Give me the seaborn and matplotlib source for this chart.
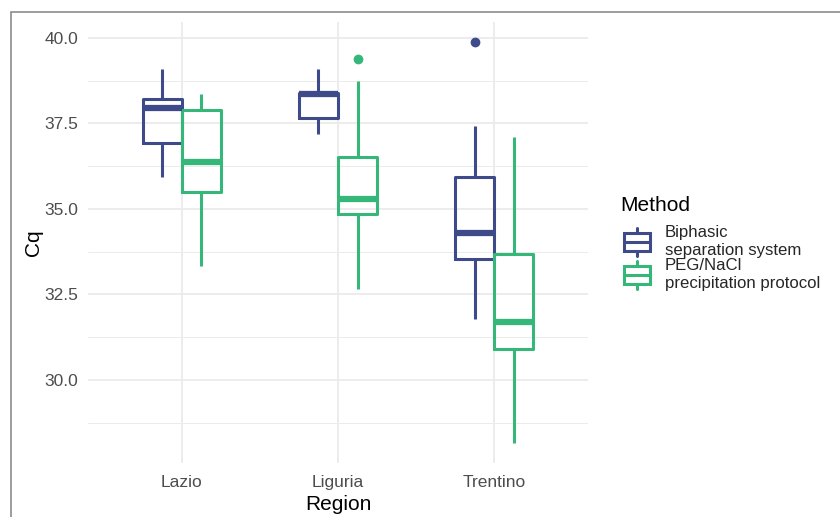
import numpy as np
import pandas as pd
import seaborn as sns
import matplotlib.pyplot as plt
from matplotlib.patches import Rectangle, Patch
from matplotlib.lines import Line2D
from matplotlib.legend_handler import HandlerBase
from matplotlib.ticker import MultipleLocator

regions = ["Lazio", "Liguria", "Trentino"]
methods = ["Biphasic\nseparation system", "PEG/NaCl\nprecipitation protocol"]
colors = ["#3E4A89", "#35B779"]

bi_lo = [35.92, 37.18, 31.79]
bi_q1 = [36.94, 37.66, 33.53]
bi_med = [37.96, 38.35, 34.31]
bi_q3 = [38.20, 38.38, 35.92]
bi_hi = [39.08, 39.09, 37.43]
bi_out = [None, None, 39.88]

peg_lo = [33.34, 32.67, 28.15]
peg_q1 = [35.50, 34.86, 30.90]
peg_med = [36.38, 35.29, 31.70]
peg_q3 = [37.88, 36.51, 33.68]
peg_hi = [38.35, 38.73, 37.09]
peg_out = [None, 39.38, None]


def make_rows(method, lo, q1, med, q3, hi, out):
    rows = []
    for i, reg in enumerate(regions):
        last = out[i] if out[i] is not None else hi[i]
        vals = [lo[i], q1[i], q1[i], med[i], med[i], q3[i], q3[i], hi[i], last]
        for v in vals:
            rows.append({"Region": reg, "Method": method, "Cq": v})
    return rows


df = pd.DataFrame(make_rows(methods[0], bi_lo, bi_q1, bi_med, bi_q3, bi_hi, bi_out)
                  + make_rows(methods[1], peg_lo, peg_q1, peg_med, peg_q3, peg_hi, peg_out))

sns.set_theme(style="whitegrid")
plt.rcParams['font.family'] = ['Liberation Sans', 'DejaVu Sans']

fig = plt.figure(figsize=(8.4, 5.17), dpi=100)
ax = fig.add_axes([88/840, 1-463.4/517, 500/840, (463.4-21.9)/517])

sns.boxplot(data=df, x="Region", y="Cq", hue="Method", order=regions, hue_order=methods,
            palette=colors, fill=False, width=0.5, gap=0, linewidth=2.2, showcaps=False,
            whis=1.5, medianprops=dict(linewidth=4.5),
            flierprops=dict(marker='o', markersize=6), legend=False, ax=ax)

for ln in ax.lines:
    if ln.get_linestyle() == 'None':
        ln.set_markerfacecolor(ln.get_markeredgecolor())

ymin, ymax = df["Cq"].min(), df["Cq"].max()
pad = (ymax - ymin) * 0.05
ax.set_ylim(ymin - pad, ymax + pad)
ax.set_xlim(-0.6, 2.6)

ax.yaxis.set_major_locator(MultipleLocator(2.5))
ax.yaxis.set_minor_locator(MultipleLocator(1.25))
ax.yaxis.set_major_formatter(plt.FuncFormatter(lambda v, p: f"{v:.1f}"))
ax.grid(True, which='major', axis='both', color='#EBEBEB', linewidth=1.3)
ax.grid(True, which='minor', axis='y', color='#EBEBEB', linewidth=0.7)
ax.set_axisbelow(True)
for s in ax.spines.values():
    s.set_visible(False)
ax.set_facecolor('white')
ax.tick_params(axis='both', which='both', length=0, labelsize=12.5, labelcolor='#4D4D4D')
ax.tick_params(axis='y', pad=7)
ax.tick_params(axis='x', pad=8.6)
ax.set_xlabel("Region", fontsize=15, color='black', labelpad=3.5)
ax.set_ylabel("Cq", fontsize=15, color='black', labelpad=1)


class BoxHandler(HandlerBase):
    def create_artists(self, legend, orig_handle, xdescent, ydescent, width, height, fontsize, trans):
        c = orig_handle.get_edgecolor()
        x0, x1 = -xdescent + 1, -xdescent + width - 1
        cy = -ydescent + height / 2
        bh = 13.5
        wh = 3.6
        xm = (x0 + x1) / 2
        box = Rectangle((x0, cy - bh / 2), x1 - x0, bh, facecolor='none', edgecolor=c,
                        linewidth=2.2, transform=trans)
        med = Line2D([x0, x1], [cy, cy], color=c, linewidth=2.2, transform=trans)
        w1 = Line2D([xm, xm], [cy + bh / 2, cy + bh / 2 + wh], color=c, linewidth=2.2, transform=trans)
        w2 = Line2D([xm, xm], [cy - bh / 2, cy - bh / 2 - wh], color=c, linewidth=2.2, transform=trans)
        return [box, med, w1, w2]


fig.text(620/840, 1-205/517, "Method", fontsize=15, color='black', ha='left', va='center')

handles = [Patch(edgecolor=c, facecolor='none', label=m) for c, m in zip(colors, methods)]
leg = fig.legend(handles=handles, loc='center left',
                 bbox_to_anchor=(614/840, 1-258/517), frameon=False, fontsize=12.1,
                 handlelength=1.72, handleheight=1.6, labelspacing=0.05,
                 handletextpad=0.8, borderpad=0,
                 handler_map={Patch: BoxHandler()})

fig.patches.append(Rectangle((11/840, -0.1), 2, 1 - 12/517 + 0.1, transform=fig.transFigure,
                             fill=False, edgecolor='#8C8C8C', linewidth=1.2))

fig.savefig("out.png", dpi=100)
